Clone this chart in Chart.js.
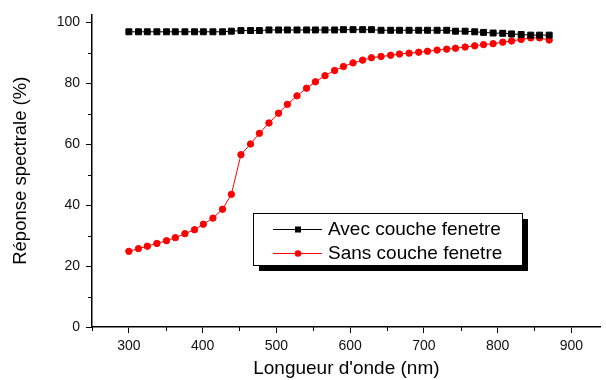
<!DOCTYPE html>
<html>
<head>
<meta charset="utf-8">
<script src="https://cdn.jsdelivr.net/npm/chart.js@4/dist/chart.umd.min.js"></script>
<style>
  body { margin: 0; background: #fff; }
  #wrap { width: 606px; height: 380px; position: relative; }
</style>
</head>
<body>
<div id="wrap"><canvas id="chart"></canvas></div>
<script>
// Wavelengths (nm) of the measured points
const wavelengths = [300, 313, 325, 338, 351, 363, 376, 389, 401, 414, 427, 439,
  452, 465, 477, 490, 503, 515, 528, 541, 553, 566, 579, 591, 604, 617, 629, 642,
  655, 667, 680, 693, 705, 718, 731, 743, 756, 769, 781, 794, 807, 819, 832, 845, 857, 870];

// Spectral response (%) with the window layer
const avecCouche = [96.8, 96.8, 96.8, 96.8, 96.8, 96.8, 96.8, 96.8, 96.8, 96.8, 96.8, 97.0,
  97.2, 97.2, 97.2, 97.4, 97.4, 97.4, 97.4, 97.4, 97.4, 97.4, 97.4, 97.5, 97.5, 97.5, 97.5,
  97.3, 97.3, 97.3, 97.3, 97.3, 97.3, 97.3, 97.3, 97.0, 97.0, 96.8, 96.6, 96.4, 96.3, 96.1,
  95.9, 95.7, 95.7, 95.7];

// Spectral response (%) without the window layer
const sansCouche = [24.8, 25.7, 26.5, 27.4, 28.3, 29.3, 30.6, 31.9, 33.7, 35.7, 38.6, 43.5,
  56.5, 60.0, 63.5, 66.9, 70.1, 73.0, 75.8, 78.3, 80.4, 82.4, 84.1, 85.4, 86.6, 87.5, 88.3,
  88.7, 89.1, 89.5, 89.8, 90.1, 90.4, 90.8, 91.1, 91.4, 91.8, 92.2, 92.6, 92.9, 93.4, 93.8,
  94.3, 94.8, 94.8, 94.1];

const seriesLabels = ['Avec couche fenetre', 'Sans couche fenetre'];
const xTitle = "Longueur d'onde (nm)";
const yTitle = 'Réponse spectrale (%)';

const FONT = 'Liberation Sans, Arial, sans-serif';

function toPoints(xs, ys) {
  return xs.map((x, i) => ({ x: x, y: ys[i] }));
}

// short minor ticks (majors come from the grid options)
const minorTicks = {
  id: 'minorTicks',
  afterDraw(chart) {
    const ctx = chart.ctx;
    const xs = chart.scales.x, ys = chart.scales.y;
    ctx.save();
    ctx.strokeStyle = '#000';
    ctx.lineWidth = 1;
    ctx.beginPath();
    xs.ticks.forEach(t => {
      if (t.value % 100 !== 0) {
        const px = Math.round(xs.getPixelForValue(t.value)) + 0.5;
        ctx.moveTo(px, xs.top);
        ctx.lineTo(px, xs.top + 4);
      }
    });
    ys.ticks.forEach(t => {
      if (t.value % 20 !== 0) {
        const py = Math.round(ys.getPixelForValue(t.value)) + 0.5;
        ctx.moveTo(ys.right, py);
        ctx.lineTo(ys.right - 4, py);
      }
    });
    ctx.stroke();
    ctx.restore();
  }
};

// boxed legend with a drop shadow, like the original plot
const boxLegend = {
  id: 'boxLegend',
  afterDraw(chart) {
    const ctx = chart.ctx;
    const bx = 253, by = 213, bw = 269, bh = 52;
    ctx.save();
    ctx.fillStyle = '#000';
    ctx.fillRect(bx + 6, by + 6, bw, bh);
    ctx.fillStyle = '#fff';
    ctx.fillRect(bx, by, bw, bh);
    ctx.strokeStyle = '#000';
    ctx.lineWidth = 1;
    ctx.strokeRect(bx + 0.5, by + 0.5, bw, bh);

    chart.data.datasets.forEach((ds, i) => {
      const y = by + 16 + i * 24;
      ctx.strokeStyle = ds.borderColor;
      ctx.lineWidth = 1;
      ctx.beginPath();
      ctx.moveTo(273, y + 0.5);
      ctx.lineTo(322, y + 0.5);
      ctx.stroke();
      ctx.fillStyle = ds.pointBackgroundColor;
      if (ds.pointStyle === 'rect') {
        ctx.fillRect(295, y - 2.5, 6, 6);
      } else {
        ctx.beginPath();
        ctx.arc(298, y + 0.5, 3.3, 0, Math.PI * 2);
        ctx.fill();
      }
      ctx.fillStyle = '#000';
      ctx.font = '19px ' + FONT;
      ctx.textBaseline = 'middle';
      ctx.textAlign = 'left';
      ctx.fillText(ds.label, 328, y + 1);
    });
    ctx.restore();
  }
};

new Chart(document.getElementById('chart'), {
  type: 'scatter',
  data: {
    datasets: [
      {
        label: seriesLabels[0],
        data: toPoints(wavelengths, avecCouche),
        showLine: true,
        borderColor: '#000',
        borderWidth: 1,
        pointStyle: 'rect',
        pointRadius: 4.2,
        pointBorderWidth: 1,
        pointBackgroundColor: '#000',
        pointBorderColor: '#000'
      },
      {
        label: seriesLabels[1],
        data: toPoints(wavelengths, sansCouche),
        showLine: true,
        borderColor: '#ff0000',
        borderWidth: 1,
        pointStyle: 'circle',
        pointRadius: 3.2,
        pointBorderWidth: 1,
        pointBackgroundColor: '#ff0000',
        pointBorderColor: '#ff0000'
      }
    ]
  },
  options: {
    responsive: true,
    maintainAspectRatio: false,
    animation: false,
    layout: { padding: { top: 13, right: 0, left: 0, bottom: 0 } },
    plugins: {
      legend: { display: false },
      tooltip: { enabled: false }
    },
    scales: {
      x: {
        type: 'linear',
        min: 250,
        max: 940,
        afterFit: (scale) => { scale.height = 53; },
        border: { display: true, color: '#000', width: 1.5 },
        grid: {
          drawOnChartArea: false,
          drawTicks: true,
          tickLength: 6,
          tickColor: (c) => (c.tick && c.tick.value % 100 === 0) ? '#000' : 'rgba(0,0,0,0)'
        },
        ticks: {
          stepSize: 50,
          includeBounds: false,
          autoSkip: false,
          maxRotation: 0,
          padding: 5,
          color: '#111',
          font: { family: FONT, size: 14 },
          callback: (v) => (v % 100 === 0 ? String(v) : '')
        },
        title: {
          display: true,
          text: xTitle,
          color: '#000',
          font: { family: FONT, size: 19 },
          padding: { top: 0, bottom: 0 }
        }
      },
      y: {
        type: 'linear',
        min: 0,
        max: 102.5,
        afterFit: (scale) => { scale.width = 92; },
        border: { display: true, color: '#000', width: 1.5 },
        grid: {
          drawOnChartArea: false,
          drawTicks: true,
          tickLength: 6,
          tickColor: (c) => (c.tick && c.tick.value % 20 === 0) ? '#000' : 'rgba(0,0,0,0)'
        },
        ticks: {
          stepSize: 10,
          includeBounds: false,
          autoSkip: false,
          padding: 6,
          color: '#111',
          font: { family: FONT, size: 14 },
          callback: (v) => (v % 20 === 0 ? String(v) : '')
        },
        title: {
          display: true,
          text: yTitle,
          color: '#000',
          font: { family: FONT, size: 18.5 },
          padding: { top: 10, bottom: 0 }
        }
      }
    }
  },
  plugins: [minorTicks, boxLegend]
});
</script>
</body>
</html>
